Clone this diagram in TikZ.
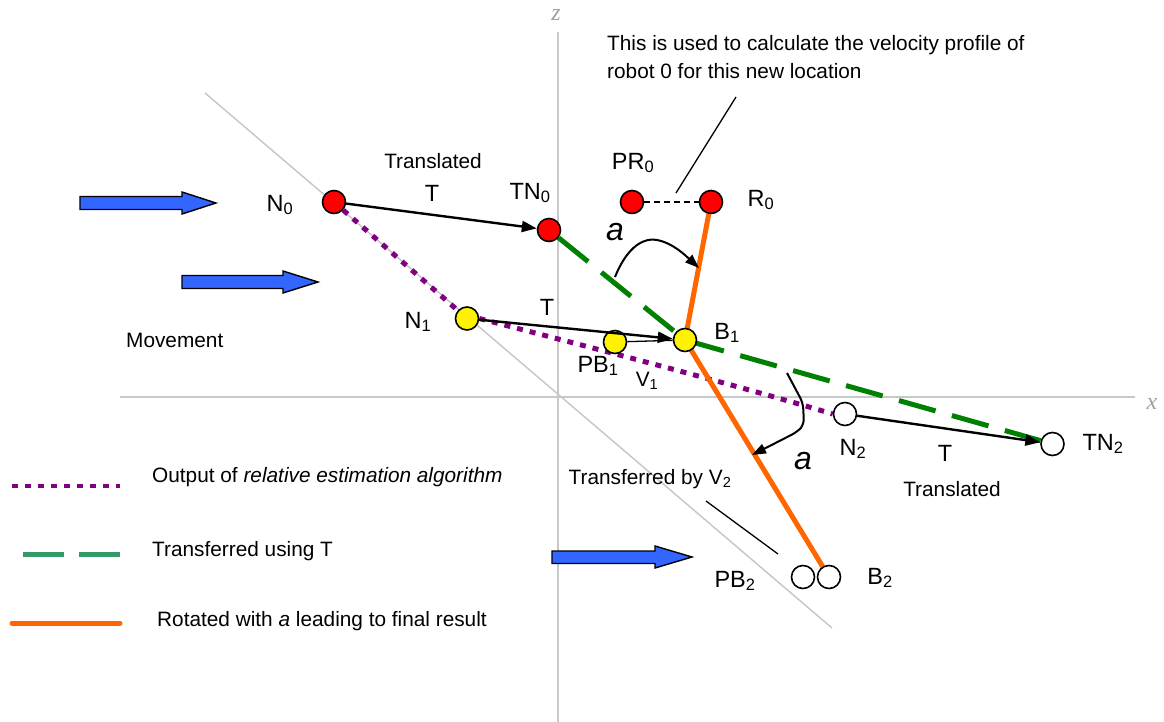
\documentclass[tikz,border=0pt]{standalone}
\usepackage{fontspec}
\setmainfont{Liberation Sans}
\newfontfamily\axfont{Liberation Serif}
\usetikzlibrary{arrows.meta,backgrounds}
\definecolor{axgray}{RGB}{200,200,200}
\definecolor{blkblue}{RGB}{51,102,255}
\definecolor{dgreen}{RGB}{0,128,0}
\definecolor{lgreen}{RGB}{51,153,102}
\definecolor{orng}{RGB}{255,102,0}
\definecolor{prpl}{RGB}{128,0,128}
\newcommand\sbs[1]{\textsubscript{#1}}
\begin{document}
\begin{tikzpicture}[x=1pt,y=-1pt,
  dot/.style={circle,draw,line width=1.6pt,minimum size=23pt,inner sep=0pt},
  reddot/.style={dot,fill=red},
  ylwdot/.style={dot,fill=yellow},
  whtdot/.style={dot,fill=white},
  lbl/.style={inner sep=0pt,font=\fontsize{23.5}{28}\selectfont},
  txt/.style={inner sep=0pt,font=\fontsize{20.8}{28}\selectfont},
  ang/.style={inner sep=0pt,font=\fontsize{32}{36}\selectfont\itshape},
  axlbl/.style={inner sep=0pt,text=axgray!80!black,font=\fontsize{24}{28}\selectfont\axfont\itshape},
  axisline/.style={draw=axgray,line width=1.5pt},
  blockarrow/.style={draw=black,line width=1.4pt,fill=blkblue,line join=miter},
  tarrow/.style={line width=2.4pt,-{Triangle[length=15pt,width=11pt]}},
  curvarrow/.style={line width=2pt,-{Triangle[length=14pt,width=10pt]}},
  grnline/.style={dgreen,line width=5pt,dash pattern=on 38pt off 17pt},
  orgline/.style={orng,line width=5pt},
  prpline/.style={prpl,line width=5pt,dash pattern=on 6pt off 7pt},
  thinline/.style={line width=1.3pt},
]
\useasboundingbox (0,0) rectangle (1164,722);

% circles
\node[reddot] (N0) at (334,202) {};
\node[reddot] (TN0) at (549,230) {};
\node[reddot] (PR0) at (632,202) {};
\node[reddot] (R0) at (711,202) {};
\node[ylwdot] (N1) at (467,318.5) {};
\node[ylwdot] (PB1) at (615,342) {};
\node[ylwdot] (B1) at (685,340) {};
\node[whtdot] (N2) at (845,414) {};
\node[whtdot] (TN2) at (1052.5,444) {};
\node[whtdot] (PB2) at (803,577) {};
\node[whtdot] (B2) at (829,577) {};

% labels
\node[lbl] (lN0) at (280,205) {N\sbs{0}};
\node[lbl] (lTN0) at (530,193) {TN\sbs{0}};
\node[lbl] (lPR0) at (633,163) {PR\sbs{0}};
\node[lbl] (lR0) at (761,200) {R\sbs{0}};
\node[lbl] (lN1) at (418,322) {N\sbs{1}};
\node[lbl] (lB1) at (727,333) {B\sbs{1}};
\node[lbl] (lPB1) at (598,366) {PB\sbs{1}};
\node[txt] (lV1) at (647,381) {V\sbs{1}};
\node[lbl] (lN2) at (853,449) {N\sbs{2}};
\node[lbl] (lTN2) at (1103,444) {TN\sbs{2}};
\node[lbl] (lPB2) at (735,581) {PB\sbs{2}};
\node[lbl] (lB2) at (880,578) {B\sbs{2}};
\node[txt] (tr0) at (433,161) {Translated};
\node[lbl] (T0) at (432,193) {T};
\node[lbl] (T1) at (547,307) {T};
\node[lbl] (T2) at (945,453) {T};
\node[txt] (tr2) at (952,489) {Translated};
\node[ang] (a1) at (615,232) {a};
\node[ang] (a2) at (803,461) {a};
\node[txt] (trv2) at (650,479) {Transferred by V\sbs{2}};
\node[txt,anchor=base west] (mov) at (126,347) {Movement};
\node[txt,align=left,anchor=north west] (note) at (607,35) {This is used to calculate the velocity profile of\\robot 0 for this new location};
\node[axlbl] (zl) at (556,15) {z};
\node[axlbl] (xl) at (1152,404) {x};

% legend texts
\node[txt,anchor=base west] (leg1) at (152,482) {Output of \textit{relative estimation algorithm}};
\node[txt,anchor=base west] (leg2) at (152,556) {Transferred using T};
\node[txt,anchor=base west] (leg3) at (157,626) {Rotated with \textit{a} leading to final result};

\begin{pgfonlayer}{background}
  % axes
  \coordinate (zt) at (558,32);
  \coordinate (zb) at (558,722);
  \coordinate (xa) at (120,397);
  \coordinate (xb) at (1135,397);
  \coordinate (da) at (205,93);
  \coordinate (db) at (832,628);
  \draw[axisline] (zt) -- (zb);
  \draw[axisline] (xa) -- (xb);
  \draw[axisline] (da) -- (db);
  % coloured paths
  \draw[prpline] (N0) -- (N1);
  \draw[prpline] (N1.east) .. controls (640,360) and (760,392) .. (N2.west);
  \draw[grnline] (TN0) -- (B1.center) -- (TN2);
  \draw[orgline] (R0) -- (B1.center) -- (B2);
\end{pgfonlayer}

% translation arrows
\draw[tarrow] (N0) -- (TN0);
\draw[tarrow] (N1) -- (B1);
\draw[tarrow] (N2) -- (TN2);
\draw[thinline] (PB1) -- (B1);
\draw[thinline,dashed,dash pattern=on 6pt off 4pt] (PR0) -- (R0);

% callouts
\coordinate (c1a) at (676,193);
\coordinate (c1b) at (736,97);
\draw[thinline] (c1a) -- (c1b);
\coordinate (c2a) at (706,501);
\coordinate (c2b) at (778,554);
\draw[thinline] (c2a) -- (c2b);

% rotation arrows
\coordinate (r1s) at (615,277);
\coordinate (r1e) at (699,268);
\draw[curvarrow] (r1s) .. controls (625,252) and (640,237) .. (657,240) .. controls (673,243) and (686,256) .. (r1e);
\coordinate (r2s) at (787,373);
\coordinate (r2e) at (752,455);
\draw[curvarrow,rounded corners=6pt] (r2s) -- (803,403) -- (804,425) -- (797,432) -- (r2e);

% block arrows
\draw[blockarrow] (80,196.5) -- (182,196.5) -- (182,192) -- (216,203) -- (182,214) -- (182,209.5) -- (80,209.5) -- cycle;
\draw[blockarrow] (182,275.5) -- (283,275.5) -- (283,271) -- (318,282) -- (283,293) -- (283,288.5) -- (182,288.5) -- cycle;
\draw[blockarrow] (552,551) -- (655,551) -- (655,546) -- (692,557) -- (655,568) -- (655,563.5) -- (552,563.5) -- cycle;

% legend lines
\coordinate (l1a) at (12,486);
\coordinate (l1b) at (120,486);
\draw[prpline,line width=4.5pt] (l1a) -- (l1b);
\coordinate (l2a) at (23,554);
\coordinate (l2b) at (120,554);
\draw[lgreen,line width=5pt,dash pattern=on 41pt off 15pt] (l2a) -- (l2b);
\coordinate (l3a) at (12,623);
\coordinate (l3b) at (120,623);
\draw[orgline,line cap=round] (l3a) -- (l3b);
\end{tikzpicture}
\end{document}
